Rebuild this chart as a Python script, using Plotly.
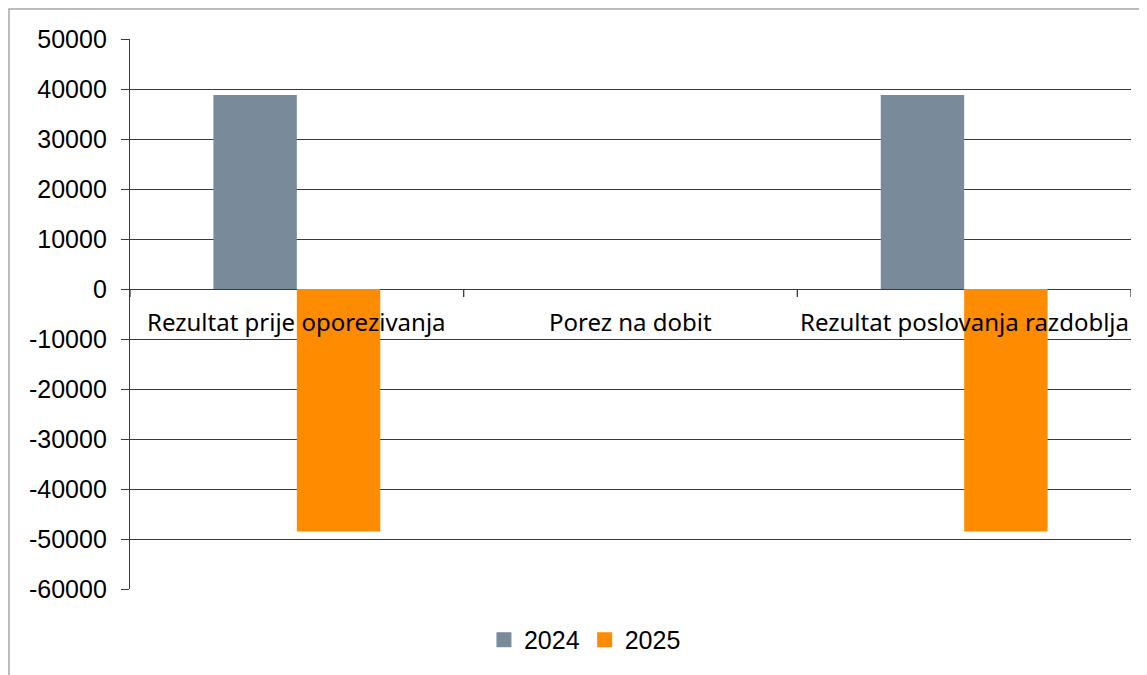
import plotly.graph_objects as go

categories = ["Rezultat prije oporezivanja", "Porez na dobit", "Rezultat poslovanja razdoblja"]
val_2024 = [38800, 0, 38800]
val_2025 = [-48500, 0, -48500]
series_names = ["2024", "2025"]
y_ticks = list(range(-60000, 50001, 10000))

C2024 = "#798A9B"
C2025 = "#FF8C00"
GRID = "#3A3A3A"

L, T, PW, PH = 122, 31, 1001, 550
W, H = 1147, 675

fig = go.Figure()
fig.add_trace(go.Bar(name=series_names[0], x=categories, y=val_2024, showlegend=False,
                     marker=dict(color=C2024, line=dict(width=0))))
fig.add_trace(go.Bar(name=series_names[1], x=categories, y=val_2025, showlegend=False,
                     marker=dict(color=C2025, line=dict(width=0))))
# legend entries
for name, col in zip(series_names, [C2024, C2025]):
    fig.add_trace(go.Scatter(name=name, x=[None], y=[None], mode="markers",
                             marker=dict(symbol="square", size=15, color=col),
                             showlegend=True))

# category labels sitting under the zero line
for i, c in enumerate(categories):
    fig.add_annotation(x=c, y=0, xref="x", yref="y", text=c, showarrow=False,
                       yanchor="top", yshift=-14,
                       font=dict(family="Noto Sans", size=24, color="#000000"))

# category boundary tick marks on the zero line
for b in [k - 0.5 for k in range(len(categories) + 1)]:
    fig.add_shape(type="line", xref="x", yref="y", x0=b, x1=b,
                  ysizemode="pixel", yanchor=0, y0=0, y1=-8,
                  line=dict(color=GRID, width=1.3))

# chart border (left and top edges visible)
fig.add_shape(type="rect", xref="paper", yref="paper",
              x0=(-L + 1) / PW, x1=(W - L + 20) / PW,
              y0=-(H - T - PH + 20) / PH, y1=1 + (T - 1) / PH,
              line=dict(color="#A6A6A6", width=1.5), layer="below")

fig.update_layout(
    width=W, height=H,
    margin=dict(l=L, r=W - L - PW, t=T, b=H - T - PH),
    paper_bgcolor="white", plot_bgcolor="white",
    barmode="group", bargap=0.5, bargroupgap=0,
    font=dict(family="Liberation Sans, Arial", size=25, color="#000000"),
    showlegend=True,
    legend=dict(orientation="h", x=0.4545, xanchor="center", y=-0.0927, yanchor="middle",
                font=dict(family="Liberation Sans, Arial", size=25), traceorder="normal",
                itemwidth=30, itemsizing="trace"),
)
fig.update_xaxes(range=[-0.5, 2.5], showticklabels=False, showgrid=False,
                 showline=False, zeroline=False, ticks="")
fig.update_yaxes(range=[-60000, 50000], tickvals=y_ticks, ticktext=[str(v) for v in y_ticks],
                 showgrid=True, gridcolor=GRID, gridwidth=1.3,
                 zeroline=True, zerolinecolor=GRID, zerolinewidth=1.3,
                 showline=True, linecolor=GRID, linewidth=1.3,
                 ticks="outside", ticklen=8, tickcolor=GRID, tickwidth=1.3,
                 ticklabelstandoff=9,
                 tickfont=dict(family="Liberation Sans, Arial", size=25))

fig.write_html("out.html")
